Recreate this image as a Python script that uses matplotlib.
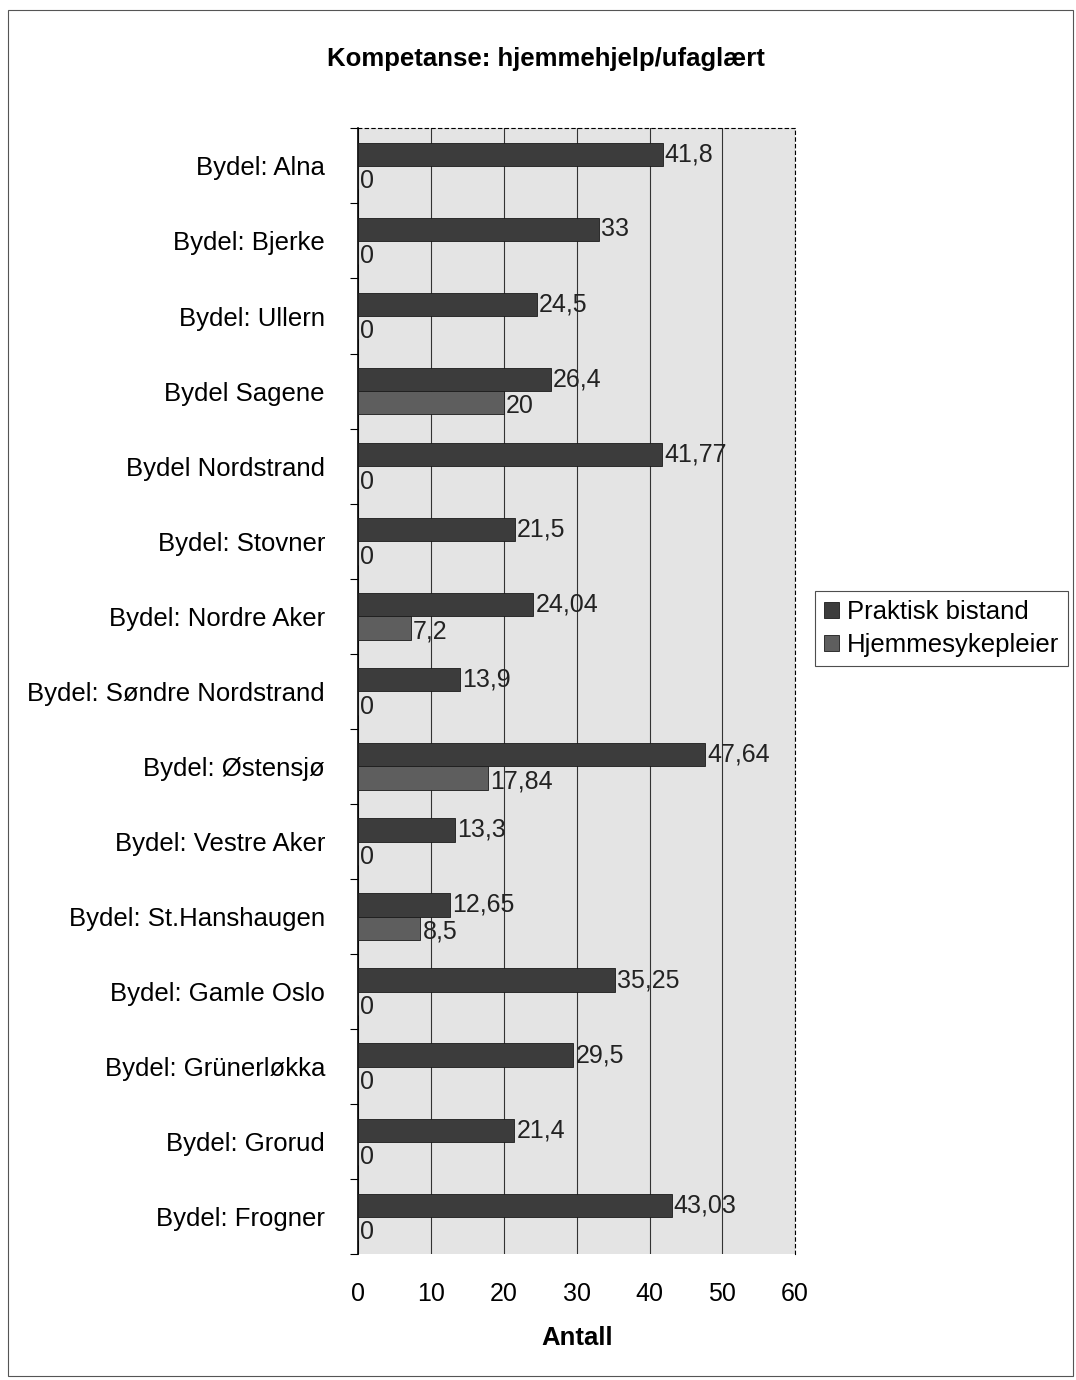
import matplotlib
matplotlib.use("Agg")
import matplotlib.pyplot as plt
import numpy as np
from matplotlib.patches import Rectangle

# Data
bydeler = ["Bydel: Alna", "Bydel: Bjerke", "Bydel: Ullern", "Bydel Sagene",
           "Bydel Nordstrand", "Bydel: Stovner", "Bydel: Nordre Aker",
           "Bydel: Søndre Nordstrand", "Bydel: Østensjø", "Bydel: Vestre Aker",
           "Bydel: St.Hanshaugen", "Bydel: Gamle Oslo", "Bydel: Grünerløkka",
           "Bydel: Grorud", "Bydel: Frogner"]
praktisk = [41.8, 33, 24.5, 26.4, 41.77, 21.5, 24.04, 13.9, 47.64, 13.3,
            12.65, 35.25, 29.5, 21.4, 43.03]
hjemmesyk = [0, 0, 0, 20, 0, 0, 7.2, 0, 17.84, 0, 8.5, 0, 0, 0, 0]
xticks = [0, 10, 20, 30, 40, 50, 60]

plt.rcParams['font.family'] = ['Liberation Sans', 'DejaVu Sans']

fig = plt.figure(figsize=(10.76, 13.8), dpi=100)
ax = fig.add_axes([0.333, 0.091, 0.406, 0.816])

n = len(bydeler)
y = np.arange(n)
h = 0.31

def fmt(v):
    return f"{v:g}".replace(".", ",")

b1 = ax.barh(y - h / 2, praktisk, height=h, color="#3c3c3c", edgecolor="#1a1a1a",
             linewidth=0.6, label="Praktisk bistand", zorder=3)
b2 = ax.barh(y + h / 2, hjemmesyk, height=h, color="#5e5e5e", edgecolor="#1a1a1a",
             linewidth=0.6, label="Hjemmesykepleier", zorder=3)

for yy, v in zip(y, praktisk):
    ax.text(v + 0.3, yy - h / 2, fmt(v), va="center", ha="left", fontsize=18,
            color="#222222", zorder=4)
for yy, v in zip(y, hjemmesyk):
    ax.text(v + 0.3, yy + h / 2 + 0.05, fmt(v), va="center", ha="left", fontsize=18,
            color="#222222", zorder=4)

ax.set_xlim(0, 60)
ax.set_ylim(n - 0.5, -0.5)
ax.set_xticks(xticks)
ax.set_xticklabels([str(t) for t in xticks], fontsize=18)
ax.set_xlabel("Antall", fontsize=18.5, fontweight="bold", labelpad=14)

# category labels between tick marks, Excel style
ax.set_yticks(np.arange(-0.5, n, 1))
ax.set_yticklabels([])
ax.set_yticks(y, minor=True)
ax.set_yticklabels(bydeler, minor=True, fontsize=18.5)
ax.tick_params(axis="y", which="minor", length=0, pad=24)
ax.tick_params(axis="y", which="major", length=6, direction="out")
ax.tick_params(axis="x", length=0, pad=20)

ax.set_facecolor("#e4e4e4")
ax.grid(axis="x", color="#333333", linewidth=0.8, zorder=1)
for s in ["top", "right"]:
    ax.spines[s].set_linestyle((0, (3, 3)))
    ax.spines[s].set_linewidth(0.8)
ax.spines["left"].set_linewidth(1.2)
ax.spines["bottom"].set_visible(False)

fig.text(0.507, 0.957, "Kompetanse: hjemmehjelp/ufaglært", ha="center",
         va="center", fontsize=18.5, fontweight="bold")

leg = fig.legend(handles=[b1, b2], loc="center left",
                 bbox_to_anchor=(0.757, 0.5445), fontsize=18.5, frameon=True,
                 fancybox=False, edgecolor="#222222", handlelength=0.6,
                 handleheight=0.6, handletextpad=0.3, borderpad=0.35,
                 labelspacing=0.35, borderaxespad=0)
leg.get_frame().set_linewidth(0.8)

fig.patches.append(Rectangle((0.007, 0.003), 0.99, 0.99, transform=fig.transFigure,
                             fill=False, edgecolor="#555555", linewidth=0.8))

fig.savefig("out.png", dpi=100)
